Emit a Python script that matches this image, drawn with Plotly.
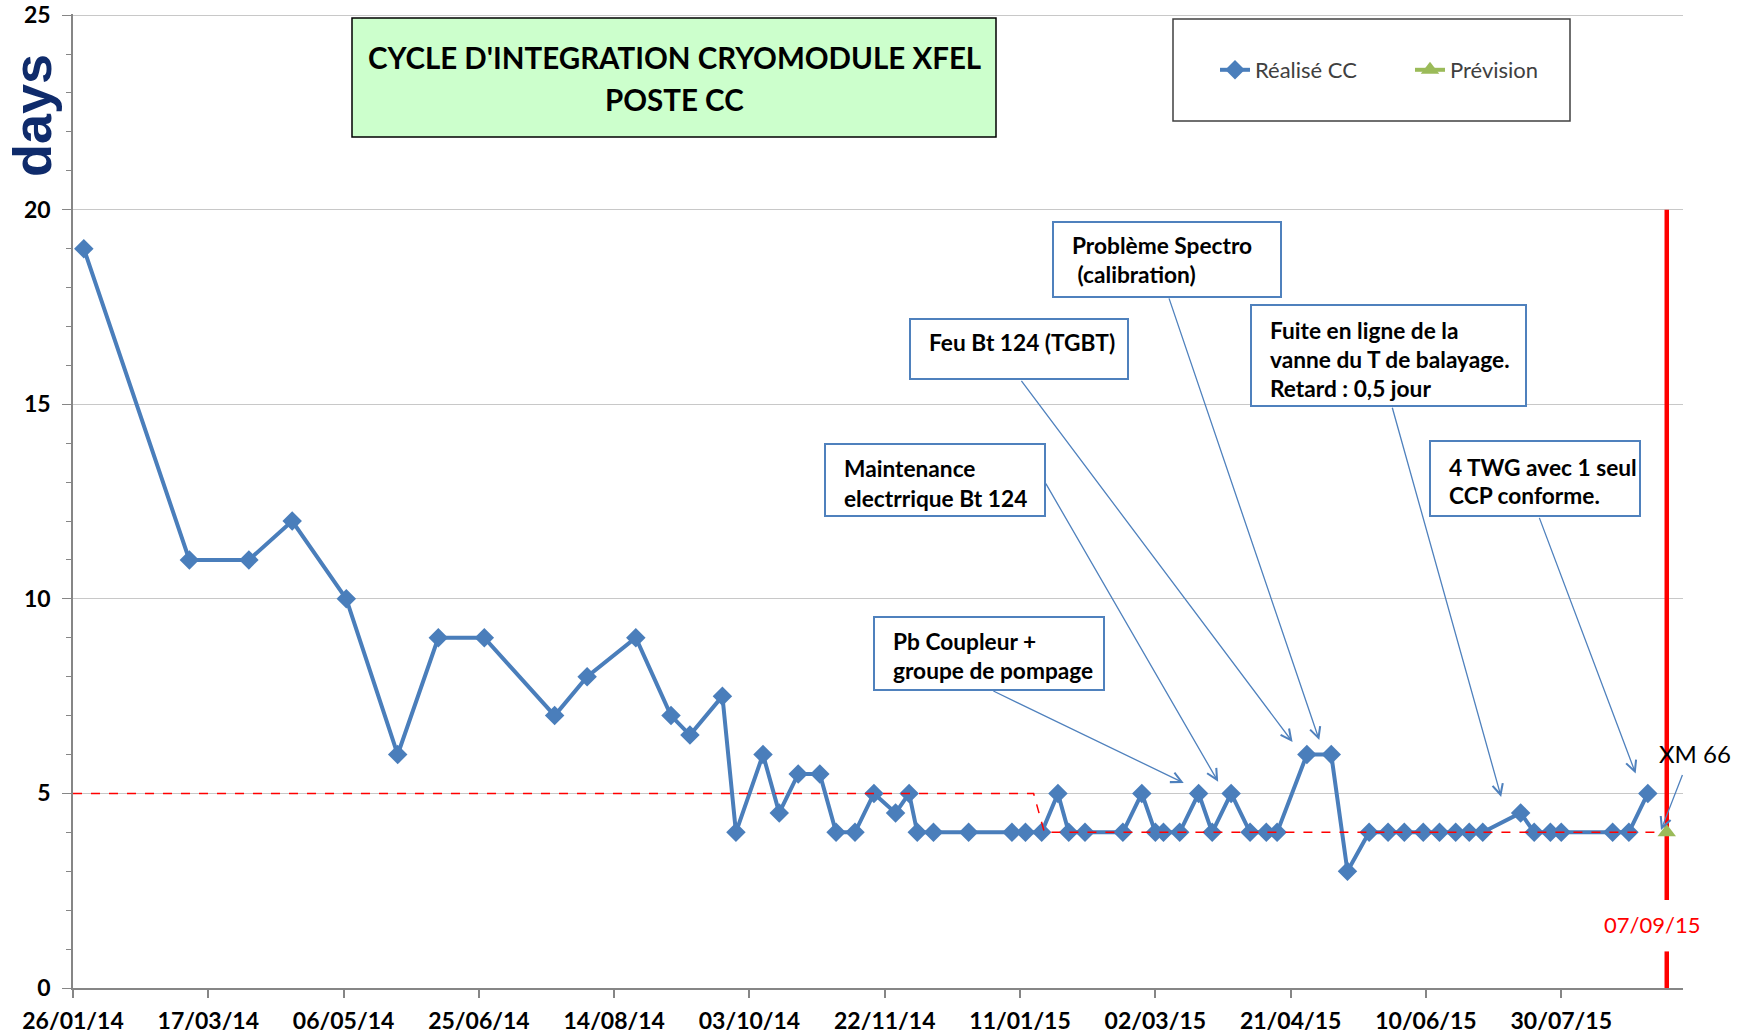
import plotly.graph_objects as go

# ---------------- data ----------------
realise_dates = [
    "2014-01-30", "2014-03-10", "2014-04-01", "2014-04-17", "2014-05-07", "2014-05-26",
    "2014-06-10", "2014-06-27", "2014-07-23", "2014-08-04", "2014-08-22", "2014-09-04",
    "2014-09-11", "2014-09-23", "2014-09-28", "2014-10-08", "2014-10-14", "2014-10-21",
    "2014-10-29", "2014-11-04", "2014-11-11", "2014-11-18", "2014-11-26", "2014-12-01",
    "2014-12-04", "2014-12-10", "2014-12-23", "2015-01-08", "2015-01-13", "2015-01-19",
    "2015-01-25", "2015-01-29", "2015-02-04", "2015-02-18", "2015-02-25", "2015-03-02",
    "2015-03-05", "2015-03-11", "2015-03-18", "2015-03-23", "2015-03-30", "2015-04-06",
    "2015-04-12", "2015-04-16", "2015-04-27", "2015-05-06", "2015-05-12", "2015-05-20",
    "2015-05-27", "2015-06-02", "2015-06-09", "2015-06-15", "2015-06-21", "2015-06-26",
    "2015-07-01", "2015-07-15", "2015-07-20", "2015-07-26", "2015-07-30", "2015-08-18",
    "2015-08-24", "2015-08-31",
]
realise_days = [
    19, 11, 11, 12, 10, 6,
    9, 9, 7, 8, 9, 7,
    6.5, 7.5, 4, 6, 4.5, 5.5,
    5.5, 4, 4, 5, 4.5, 5,
    4, 4, 4, 4, 4, 4,
    5, 4, 4, 4, 5, 4,
    4, 4, 5, 4, 5, 4,
    4, 4, 6, 6, 3, 4,
    4, 4, 4, 4, 4, 4,
    4, 4.5, 4, 4, 4, 4,
    4, 5,
]
prevision_dates = ["2015-09-07"]
prevision_days = [4]

objectif_dates = ["2014-01-26", "2015-01-16", "2015-01-20", "2015-09-07"]
objectif_days = [5, 5, 4, 4]

echeance_date = "2015-09-07"
echeance_label = "07/09/15"
echeance_segments = [(0, 0.94), (2.26, 20)]

xtick_vals = ["2014-01-26", "2014-03-17", "2014-05-06", "2014-06-25", "2014-08-14",
              "2014-10-03", "2014-11-22", "2015-01-11", "2015-03-02", "2015-04-21",
              "2015-06-10", "2015-07-30"]
xtick_text = ["26/01/14", "17/03/14", "06/05/14", "25/06/14", "14/08/14", "03/10/14",
              "22/11/14", "11/01/15", "02/03/15", "21/04/15", "10/06/15", "30/07/15"]
ytick_vals = [0, 5, 10, 15, 20, 25]

# callouts: text lines, arrow tail (date, value), arrow tip (date, value)
callout_texts = [
    ["Problème Spectro", "\u00a0(calibration)"],
    ["Feu Bt 124 (TGBT)"],
    ["Fuite en ligne de la", "vanne du T de balayage.", "Retard : 0,5 jour"],
    ["Maintenance", "electrrique Bt 124"],
    ["Pb Coupleur +", "groupe de pompage"],
    ["4 TWG avec 1 seul", "CCP conforme."],
]
arrow_tails = [("2015-03-06 21:00", 17.76), ("2015-01-11 02:00", 15.64),
               ("2015-05-28 10:00", 14.95), ("2015-01-20 05:00", 13.0),
               ("2014-12-31 14:00", 7.65), ("2015-07-21 17:00", 12.12)]
arrow_tips = [("2015-05-01 14:00", 6.37), ("2015-04-21 17:00", 6.32),
              ("2015-07-07 19:00", 4.91), ("2015-03-25 05:00", 5.3),
              ("2015-03-12 12:00", 5.27), ("2015-08-26 12:00", 5.51)]
xm_tail = ("2015-09-13", 5.51)
xm_tip = ("2015-09-04 21:00", 4.06)

# ---------------- layout geometry (pixels) ----------------
W, H = 1748, 1034
ML, MR, MT, MB = 73, 65, 14, 46
PW, PH = W - ML - MR, H - MT - MB


def px(x):
    return (x - ML) / PW


def py(y):
    return (H - MB - y) / PH


# boxes: (x0, y0, x1, y1) in px, first line y, line spacing
callout_boxes = [
    (1053, 222, 1281, 297, 246, 29),
    (910, 319, 1128, 379, 342, 29),
    (1251, 305, 1526, 406, 330, 29.5),
    (825, 444, 1045, 516, 469, 29),
    (874, 617, 1104, 690, 641, 29),
    (1430, 441, 1640, 516, 467, 29),
]

BLUE = "#4A7EBB"
BOX_BLUE = "#4F81BD"
GREEN = "#9BBB59"
FONT = "Lato"

fig = go.Figure()

fig.add_trace(go.Scatter(
    x=realise_dates, y=realise_days, mode="lines+markers", name="Réalisé CC",
    line=dict(color=BLUE, width=4),
    marker=dict(symbol="diamond", size=15, color=BLUE),
))
fig.add_trace(go.Scatter(
    x=objectif_dates, y=objectif_days, mode="lines", showlegend=False,
    line=dict(color="#FF0000", width=1.5, dash="dash"),
    hoverinfo="skip",
))
fig.add_trace(go.Scatter(
    x=prevision_dates, y=prevision_days, mode="lines+markers", name="Prévision",
    line=dict(color=GREEN, width=4),
    marker=dict(symbol="triangle-up", size=16, color=GREEN),
))

shapes = []
annotations = []

# red deadline line
for y0, y1 in echeance_segments:
    shapes.append(dict(type="line", xref="x", yref="y", x0=echeance_date, x1=echeance_date,
                       y0=y0, y1=y1, line=dict(color="#FF0000", width=4.5), layer="between"))
annotations.append(dict(xref="paper", yref="paper", x=px(1652), y=py(924), text=echeance_label,
                        showarrow=False, font=dict(family=FONT, size=22, color="#FF0000"),
                        xanchor="center", yanchor="middle"))

# title box
shapes.append(dict(type="rect", xref="paper", yref="paper", x0=px(352), x1=px(996),
                   y0=py(137), y1=py(18), fillcolor="#CCFFCC",
                   line=dict(color="#000000", width=1.5), layer="above"))
for txt, yy in [("CYCLE D'INTEGRATION CRYOMODULE XFEL", 57), ("POSTE CC", 99)]:
    annotations.append(dict(xref="paper", yref="paper", x=px(674), y=py(yy), text="<b>%s</b>" % txt,
                            showarrow=False, font=dict(family=FONT, size=29.5, color="#000000"),
                            xanchor="center", yanchor="middle"))

# legend box
shapes.append(dict(type="rect", xref="paper", yref="paper", x0=px(1173), x1=px(1570),
                   y0=py(121), y1=py(19), fillcolor="#FFFFFF",
                   line=dict(color="#404040", width=1.5), layer="above"))

# callout boxes
for (x0, y0, x1, y1, yfirst, sp), lines in zip(callout_boxes, callout_texts):
    shapes.append(dict(type="rect", xref="paper", yref="paper", x0=px(x0), x1=px(x1),
                       y0=py(y1), y1=py(y0), fillcolor="#FFFFFF",
                       line=dict(color=BOX_BLUE, width=2), layer="above"))
    for i, ln in enumerate(lines):
        annotations.append(dict(xref="paper", yref="paper", x=px(x0 + 17), y=py(yfirst + i * sp),
                                text="<b>%s</b>" % ln, showarrow=False,
                                font=dict(family=FONT, size=22.7, color="#000000"),
                                xanchor="left", yanchor="middle"))

# arrows
for (td, tv), (hd, hv) in zip(arrow_tails, arrow_tips):
    annotations.append(dict(x=hd, y=hv, ax=td, ay=tv, xref="x", yref="y", axref="x", ayref="y",
                            text="", showarrow=True, arrowhead=5, arrowsize=1.6, arrowwidth=1.3,
                            arrowcolor=BOX_BLUE, standoff=0))
annotations.append(dict(x=xm_tip[0], y=xm_tip[1], ax=xm_tail[0], ay=xm_tail[1], xref="x", yref="y",
                        axref="x", ayref="y", text="", showarrow=True, arrowhead=5, arrowsize=1.6,
                        arrowwidth=1.3, arrowcolor=BOX_BLUE, standoff=0))
annotations.append(dict(xref="paper", yref="paper", x=px(1695), y=py(753), text="XM 66",
                        showarrow=False, font=dict(family=FONT, size=24, color="#000000"),
                        xanchor="center", yanchor="middle"))

# y axis title "days"
annotations.append(dict(xref="paper", yref="paper", x=px(32), y=py(116), text="<b>days</b>",
                        textangle=-90, showarrow=False,
                        font=dict(family="Liberation Sans", size=54, color="#0F2B6B"),
                        xanchor="center", yanchor="middle"))

fig.update_layout(
    width=W, height=H,
    margin=dict(l=ML, r=MR, t=MT, b=MB, autoexpand=False),
    paper_bgcolor="white", plot_bgcolor="white",
    shapes=shapes, annotations=annotations,
    showlegend=True,
    legend=dict(orientation="h", x=px(1215), y=py(70), xanchor="left", yanchor="middle",
                bgcolor="rgba(0,0,0,0)", borderwidth=0, entrywidth=150, entrywidthmode="pixels",
                font=dict(family=FONT, size=22, color="#404040")),
    xaxis=dict(
        type="date", range=["2014-01-26", "2015-09-13"],
        tickvals=xtick_vals, ticktext=xtick_text,
        ticks="outside", ticklen=8, tickcolor="#868686", tickwidth=1.5,
        showline=True, linecolor="#868686", linewidth=1.5,
        showgrid=False, zeroline=False,
        tickfont=dict(family=FONT, size=23, color="#000000", weight="bold"),
        ticklabelstandoff=4,
    ),
    yaxis=dict(
        range=[0, 25.03], tickvals=ytick_vals,
        ticks="outside", ticklen=9, tickcolor="#868686", tickwidth=1.2,
        showline=True, linecolor="#868686", linewidth=1.5,
        showgrid=True, gridcolor="#C8C8C8", gridwidth=1.2, zeroline=False,
        minor=dict(dtick=1, ticks="outside", ticklen=5, tickcolor="#868686", showgrid=False),
        tickfont=dict(family=FONT, size=23, color="#000000", weight="bold"),
        ticklabelstandoff=7,
    ),
)

fig.write_html("out.html", config={"displayModeBar": False},
               post_script="document.body.style.margin='0px';document.body.style.padding='0px';")
